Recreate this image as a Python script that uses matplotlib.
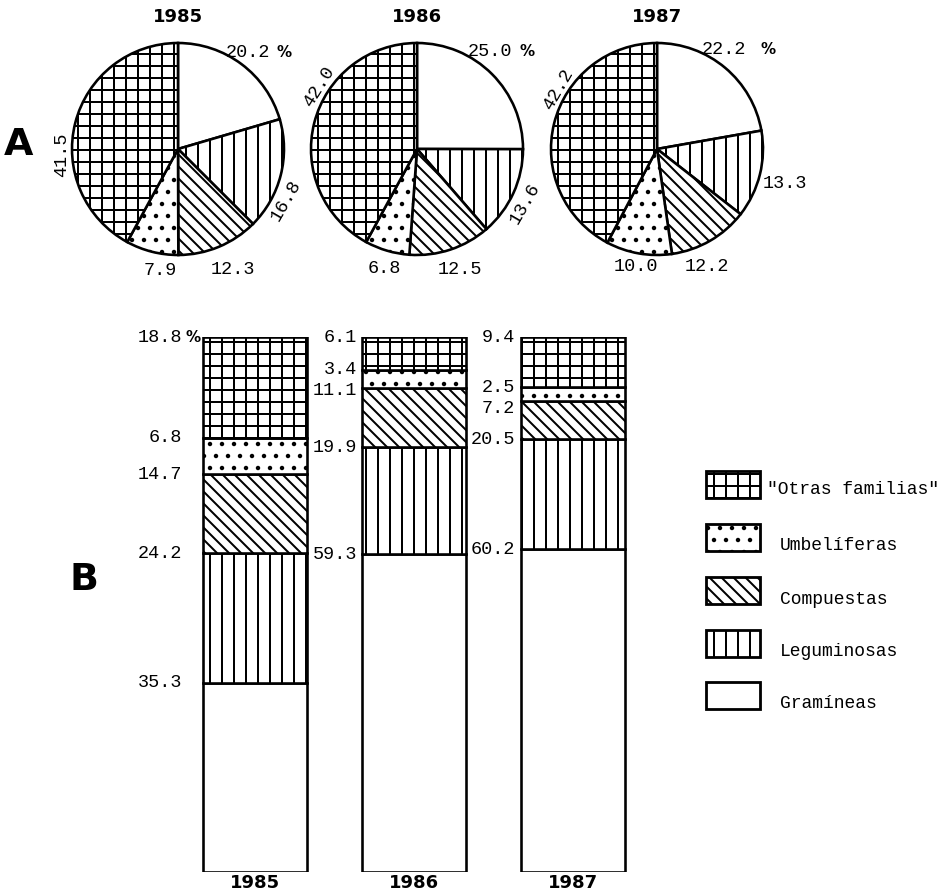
import matplotlib.pyplot as plt
import numpy as np

# datos
years = ['1985', '1986', '1987']
familias = ['Gramíneas', 'Leguminosas', 'Compuestas', 'Umbelíferas', '"Otras familias"']
tramas = ['', '|', '\\\\', '.', '+']

# A - porcentajes (Gramíneas, Leguminosas, Compuestas, Umbelíferas, Otras)
pie_1985 = [20.2, 16.8, 12.3, 7.9, 41.5]
pie_1986 = [25.0, 13.6, 12.5, 6.8, 42.0]
pie_1987 = [22.2, 13.3, 12.2, 10.0, 42.2]

# B - mismo orden, de abajo a arriba
bar_1985 = [35.3, 24.2, 14.7, 6.8, 18.8]
bar_1986 = [59.3, 19.9, 11.1, 3.4, 6.1]
bar_1987 = [60.2, 20.5, 7.2, 2.5, 9.4]

pies = [pie_1985, pie_1986, pie_1987]
bars = [bar_1985, bar_1986, bar_1987]

W, H = 946, 893
plt.rcParams['hatch.color'] = 'black'
plt.rcParams['hatch.linewidth'] = 2.0
mono = 'Liberation Mono'
bold = 'DejaVu Sans'
fs = 18.5

fig = plt.figure(figsize=(W / 72, H / 72), dpi=72, facecolor='white')


def px(x, y):
    return x / W, 1 - y / H


# ---- A: tartas ----
pie_cx = [178, 417, 657]
pie_cy = 149
R = 106
# (desplazamiento de angulo, radio, rotacion) de cada etiqueta
lab_layout = [
    [(1, 1.12, 0), (-11, 1.13, 60), (2, 1.25, 0), (6, 1.16, 0), (17, 1.1, 90)],
    [(8, 1.15, 0), (-2, 1.14, 60), (1, 1.21, 0), (1, 1.17, 0), (-18, 1.09, 58)],
    [(6, 1.13, 0), (-1, 1.25, 0), (-7, 1.2, 0), (0, 1.13, 0), (-17, 1.09, 60)],
]
pct_gap = [7, 7, 14]

for i, vals in enumerate(pies):
    l, b = px(pie_cx[i] - R, pie_cy + R)
    ax = fig.add_axes([l, b, 2 * R / W, 2 * R / H])
    wedges, _ = ax.pie(vals, radius=1, startangle=90, counterclock=False,
                       colors=['white'] * 5, hatch=tramas,
                       wedgeprops=dict(edgecolor='black', linewidth=2.6))
    ax.set_xlim(-1, 1)
    ax.set_ylim(-1, 1)
    ax.set_aspect('equal')
    ax.axis('off')
    for j, w in enumerate(wedges):
        off, r, rot = lab_layout[i][j]
        ang = np.deg2rad((w.theta1 + w.theta2) / 2 + off)
        t = ax.text(r * np.cos(ang), r * np.sin(ang), f'{vals[j]:.1f}',
                    ha='center', va='center', rotation=rot,
                    family=mono, fontsize=fs)
        if j == 0:
            ax.annotate('%', xy=(1, 0.5), xycoords=t, xytext=(pct_gap[i], 0),
                        textcoords='offset points', ha='left', va='center',
                        family=bold, weight='bold', fontsize=15)
    fig.text(*px(pie_cx[i], 17), years[i], ha='center', va='center',
             family=bold, weight='bold', fontsize=18)

# ---- B: barras apiladas ----
bar_left_px, bar_right_px = 150, 690
bar_top_px, bar_bot_px = 337, 872
x0_px, step_px, width_px = 255, 159, 104
l, b = px(bar_left_px, bar_bot_px)
axb = fig.add_axes([l, b, (bar_right_px - bar_left_px) / W,
                    (bar_bot_px - bar_top_px) / H])
ymax = max(sum(v) for v in bars)
axb.set_xlim((bar_left_px - x0_px) / step_px, (bar_right_px - x0_px) / step_px)
axb.set_ylim(0, ymax)
axb.axis('off')
wbar = width_px / step_px
lab_off = [-21, -5, -6]
px_per_unit = (bar_bot_px - bar_top_px) / ymax
min_gap = 21

for i, vals in enumerate(bars):
    tops = np.cumsum(vals)
    for j, v in enumerate(vals):
        axb.bar(i, v, bottom=tops[j] - v, width=wbar, color='white',
                edgecolor='black', linewidth=2.6, hatch=tramas[j])
    # etiquetas de arriba a abajo, separadas si se juntan
    prev_y = None
    for j in range(len(vals) - 1, -1, -1):
        y_px = bar_bot_px - tops[j] * px_per_unit
        shift = 0
        if prev_y is not None and y_px - prev_y < min_gap:
            shift = min_gap - (y_px - prev_y)
        prev_y = y_px + shift
        t = axb.annotate(f'{vals[j]:.1f}', xy=(i - wbar / 2, tops[j]),
                         xytext=(lab_off[i], -shift), textcoords='offset points',
                         ha='right', va='center', family=mono, fontsize=fs)
        if i == 0 and j == len(vals) - 1:
            axb.annotate('%', xy=(1, 0.5), xycoords=t, xytext=(3, 0),
                         textcoords='offset points', ha='left', va='center',
                         family=bold, weight='bold', fontsize=15)
    fig.text(*px(x0_px + i * step_px, 883), years[i], ha='center', va='center',
             family=bold, weight='bold', fontsize=18)

# ---- leyenda ----
axl = fig.add_axes([0, 0, 1, 1])
axl.set_xlim(0, W)
axl.set_ylim(H, 0)
axl.axis('off')
leg_y = [695, 643, 590, 537, 484]
for j, name in enumerate(familias):
    axl.add_patch(plt.Rectangle((706, leg_y[j] - 13), 54, 27, facecolor='white',
                                edgecolor='black', linewidth=2.8, hatch=tramas[j]))
    dy = 5 if j == len(familias) - 1 else 9
    dx = 767 if j == len(familias) - 1 else 780
    axl.text(dx, leg_y[j] + dy, name, ha='left', va='center',
             family=mono, fontsize=18)

# letras A y B
fig.text(*px(18, 145), 'A', ha='center', va='center', family=bold,
         weight='heavy', fontsize=38)
fig.text(*px(84, 580), 'B', ha='center', va='center', family=bold,
         weight='heavy', fontsize=38)

fig.savefig('out.png', dpi=72, facecolor='white')
